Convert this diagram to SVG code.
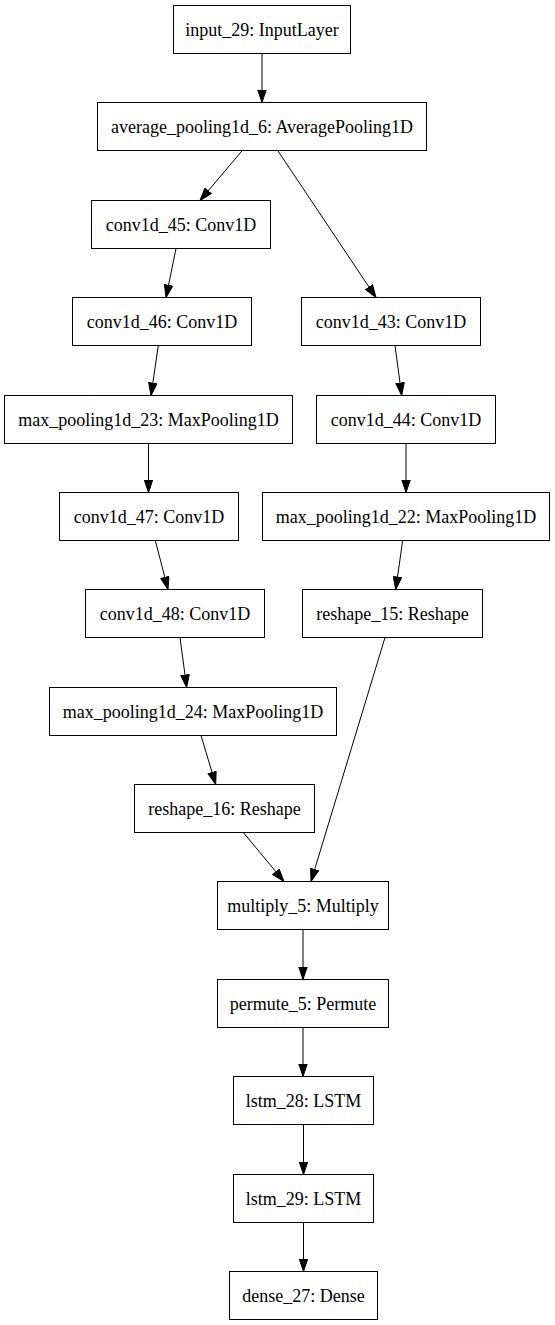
<svg xmlns="http://www.w3.org/2000/svg" width="555" height="1325" viewBox="0 0 555 1325">
<style>
.n rect{fill:#fff;stroke:#000;stroke-width:1}
.n text{font-family:"Liberation Serif","Times New Roman",serif;font-size:18px;fill:#000;text-anchor:middle}
.e line{stroke:#000;stroke-width:1;marker-end:url(#ah)}
</style>
<defs>
<marker id="ah" markerUnits="userSpaceOnUse" viewBox="0 0 13.4 9.4" refX="13" refY="4.7" markerWidth="13.4" markerHeight="9.4" orient="auto">
<path d="M0.5,0.5 L13,4.7 L0.5,8.9 Z" fill="#000" stroke="#000" stroke-width="1"/>
</marker>
</defs>
<rect width="555" height="1325" fill="#fff"/>
<g id="connectors" class="e">
<line x1="262" y1="53.5" x2="262" y2="102.5"/>
<line x1="242.3" y1="150.5" x2="200" y2="200.5"/>
<line x1="277.7" y1="150.5" x2="376" y2="297.5"/>
<line x1="176" y1="248.5" x2="166" y2="297.5"/>
<line x1="158.3" y1="345.5" x2="151" y2="395.5"/>
<line x1="395" y1="345.5" x2="401.7" y2="395.5"/>
<line x1="148.5" y1="443.5" x2="148.5" y2="492.5"/>
<line x1="406" y1="443.5" x2="406" y2="492.5"/>
<line x1="155.3" y1="540.5" x2="168" y2="589.5"/>
<line x1="402.7" y1="540.5" x2="395.7" y2="589.5"/>
<line x1="180" y1="637.5" x2="186.7" y2="687.5"/>
<line x1="385" y1="637.5" x2="311" y2="881.5"/>
<line x1="201" y1="735.5" x2="215.7" y2="784.5"/>
<line x1="243.3" y1="832.5" x2="284" y2="881.5"/>
<line x1="303" y1="929.5" x2="303" y2="979.5"/>
<line x1="303" y1="1027.5" x2="303" y2="1076.5"/>
<line x1="303.5" y1="1124.5" x2="303.5" y2="1174.5"/>
<line x1="303.5" y1="1222.5" x2="303.5" y2="1271.5"/>
</g>
<g id="input_29" class="n"><rect x="173.5" y="5.5" width="177" height="48"/><text x="262" y="35.5">input_29: InputLayer</text></g>
<g id="average_pooling1d_6" class="n"><rect x="97.5" y="102.5" width="329" height="48"/><text x="262" y="132.5">average_pooling1d_6: AveragePooling1D</text></g>
<g id="conv1d_45" class="n"><rect x="91.5" y="200.5" width="179" height="48"/><text x="181" y="230.5">conv1d_45: Conv1D</text></g>
<g id="conv1d_46" class="n"><rect x="72.5" y="297.5" width="179" height="48"/><text x="162" y="327.5">conv1d_46: Conv1D</text></g>
<g id="conv1d_43" class="n"><rect x="301.5" y="297.5" width="179" height="48"/><text x="391" y="327.5">conv1d_43: Conv1D</text></g>
<g id="max_pooling1d_23" class="n"><rect x="4.5" y="395.5" width="288" height="48"/><text x="148.5" y="425.5">max_pooling1d_23: MaxPooling1D</text></g>
<g id="conv1d_44" class="n"><rect x="316.5" y="395.5" width="179" height="48"/><text x="406" y="425.5">conv1d_44: Conv1D</text></g>
<g id="conv1d_47" class="n"><rect x="59.5" y="492.5" width="179" height="48"/><text x="149" y="522.5">conv1d_47: Conv1D</text></g>
<g id="max_pooling1d_22" class="n"><rect x="262.5" y="492.5" width="287" height="48"/><text x="406" y="522.5">max_pooling1d_22: MaxPooling1D</text></g>
<g id="conv1d_48" class="n"><rect x="85.5" y="589.5" width="179" height="48"/><text x="175" y="619.5">conv1d_48: Conv1D</text></g>
<g id="reshape_15" class="n"><rect x="302.5" y="589.5" width="180" height="48"/><text x="392.5" y="619.5">reshape_15: Reshape</text></g>
<g id="max_pooling1d_24" class="n"><rect x="49.5" y="687.5" width="287" height="48"/><text x="193" y="717.5">max_pooling1d_24: MaxPooling1D</text></g>
<g id="reshape_16" class="n"><rect x="134.5" y="784.5" width="180" height="48"/><text x="224.5" y="814.5">reshape_16: Reshape</text></g>
<g id="multiply_5" class="n"><rect x="217.5" y="881.5" width="171" height="48"/><text x="303" y="911.5">multiply_5: Multiply</text></g>
<g id="permute_5" class="n"><rect x="217.5" y="979.5" width="171" height="48"/><text x="303" y="1009.5">permute_5: Permute</text></g>
<g id="lstm_28" class="n"><rect x="233.5" y="1076.5" width="140" height="48"/><text x="303.5" y="1106.5">lstm_28: LSTM</text></g>
<g id="lstm_29" class="n"><rect x="233.5" y="1174.5" width="140" height="48"/><text x="303.5" y="1204.5">lstm_29: LSTM</text></g>
<g id="dense_27" class="n"><rect x="229.5" y="1271.5" width="148" height="48"/><text x="303.5" y="1301.5">dense_27: Dense</text></g>
</svg>
